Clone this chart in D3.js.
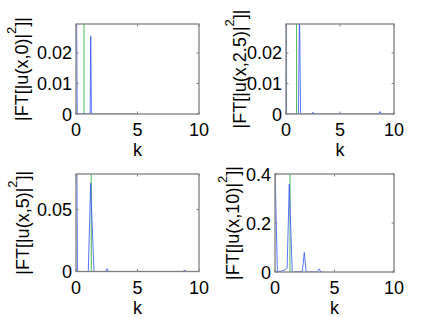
<!DOCTYPE html>
<html>
<head>
<meta charset="utf-8">
<script src="https://cdn.jsdelivr.net/npm/d3@7"></script>
<style>
  body { margin: 0; background: #fff; }
  text { font-family: "Liberation Sans", Arial, sans-serif; fill: #000; }
</style>
</head>
<body>
<div id="chart"></div>
<script>
// values, one set per subplot
var titles = ["0", "2.5", "5", "10"];

var k1 = [0, 0.1, 1.15, 1.2, 1.25, 5];
var v1 = [0.06, 0, 0, 0.0255, 0, 0];

var k2 = [0, 0.05, 1.15, 1.25, 1.35, 2.4, 2.5, 2.6, 8.6, 8.7, 8.8, 10];
var v2 = [0.06, 0, 0, 0.035, 0, 0, 0.0006, 0, 0, 0.0008, 0, 0];

var k3 = [0, 0.12, 1.0, 1.19, 1.46, 2.4, 2.52, 2.65, 8.7, 8.85, 9.0, 10];
var v3 = [0.2, 0, 0, 0.071, 0, 0, 0.0022, 0, 0, 0.0012, 0, 0];

var k4 = [0, 0.2, 0.5, 0.9, 1.02, 1.2, 1.45, 2.2, 2.3, 2.46, 2.62, 3.55, 3.71, 3.87, 4];
var v4 = [0.42, 0.003, 0.003, 0.01, 0.015, 0.358, 0, 0.002, 0.003, 0.08, 0, 0, 0.013, 0, 0];

var greenK = [0.65, 0.98, 1.24, 1.26];
var yMax = [0.0295, 0.0295, 0.0785, 0.4];
var yTicks = [[0, 0.01, 0.02], [0, 0.01, 0.02], [0, 0.05], [0, 0.2, 0.4]];
var xTicks = [0, 5, 10];

var blueK = [k1, k2, k3, k4];
var blueV = [v1, v2, v3, v4];

// subplot boxes in pixels
var boxes = [
  {x0: 76, x1: 199, y0: 24, y1: 114, lab: 28},
  {x0: 286, x1: 394, y0: 24, y1: 114, lab: 246},
  {x0: 76, x1: 199, y0: 174, y1: 271.5, lab: 29},
  {x0: 275, x1: 394, y0: 174, y1: 272, lab: 239}
];

var svg = d3.select("#chart")
  .append("svg")
  .attr("width", 436)
  .attr("height", 317);

boxes.forEach(function(b, i) {
  var x = d3.scaleLinear().domain([0, 10]).range([b.x0, b.x1]);
  var y = d3.scaleLinear().domain([0, yMax[i]]).range([b.y1, b.y0]);
  var g = svg.append("g");

  g.append("clipPath").attr("id", "clip" + i)
    .append("rect")
    .attr("x", b.x0).attr("y", b.y0)
    .attr("width", b.x1 - b.x0).attr("height", b.y1 - b.y0);

  var plot = g.append("g").attr("clip-path", "url(#clip" + i + ")");

  var pts = blueK[i].map(function(k, j) { return [k, blueV[i][j]]; });
  var line = d3.line()
    .x(function(d) { return x(d[0]); })
    .y(function(d) { return y(d[1]); });

  // green marker line
  plot.append("line")
    .attr("x1", x(greenK[i])).attr("x2", x(greenK[i]))
    .attr("y1", y(0)).attr("y2", y(yMax[i]))
    .style("stroke", "#4cb850")
    .style("stroke-width", 1);

  plot.append("path")
    .datum(pts)
    .attr("d", line)
    .style("fill", "none")
    .style("stroke", "#3050ff")
    .style("stroke-width", 0.8);

  // box
  g.append("rect")
    .attr("x", b.x0).attr("y", b.y0)
    .attr("width", b.x1 - b.x0).attr("height", b.y1 - b.y0)
    .style("fill", "none")
    .style("stroke", "#808080")
    .style("stroke-width", 1.3);

  // inward ticks on all sides
  xTicks.forEach(function(t) {
    g.append("line").attr("x1", x(t)).attr("x2", x(t))
      .attr("y1", b.y1).attr("y2", b.y1 - 2.5)
      .style("stroke", "#808080");
    g.append("line").attr("x1", x(t)).attr("x2", x(t))
      .attr("y1", b.y0).attr("y2", b.y0 + 2.5)
      .style("stroke", "#808080");
    g.append("text")
      .attr("x", x(t)).attr("y", b.y1 + 22)
      .style("text-anchor", "middle")
      .style("font-size", "18px")
      .text(t);
  });

  yTicks[i].forEach(function(t) {
    g.append("line").attr("x1", b.x0).attr("x2", b.x0 + 2.5)
      .attr("y1", y(t)).attr("y2", y(t))
      .style("stroke", "#808080");
    g.append("line").attr("x1", b.x1).attr("x2", b.x1 - 2.5)
      .attr("y1", y(t)).attr("y2", y(t))
      .style("stroke", "#808080");
    g.append("text")
      .attr("x", b.x0 - 4).attr("y", y(t) + 6.5)
      .style("text-anchor", "end")
      .style("font-size", "18px")
      .text(t);
  });

  // x label
  g.append("text")
    .attr("x", (b.x0 + b.x1) / 2).attr("y", b.y1 + 42)
    .style("text-anchor", "middle")
    .style("font-size", "18px")
    .text("k");

  // y label
  var yl = g.append("text")
    .attr("transform", "translate(" + b.lab + "," + ((b.y0 + b.y1) / 2) + ") rotate(-90)")
    .style("text-anchor", "middle")
    .style("font-size", "18px");
  yl.append("tspan").text("|FT[|u(x," + titles[i] + ")|");
  yl.append("tspan").attr("dy", -12).style("font-size", "13px").text("2");
  yl.append("tspan").attr("dy", 12).text("]|");
});
</script>
</body>
</html>
